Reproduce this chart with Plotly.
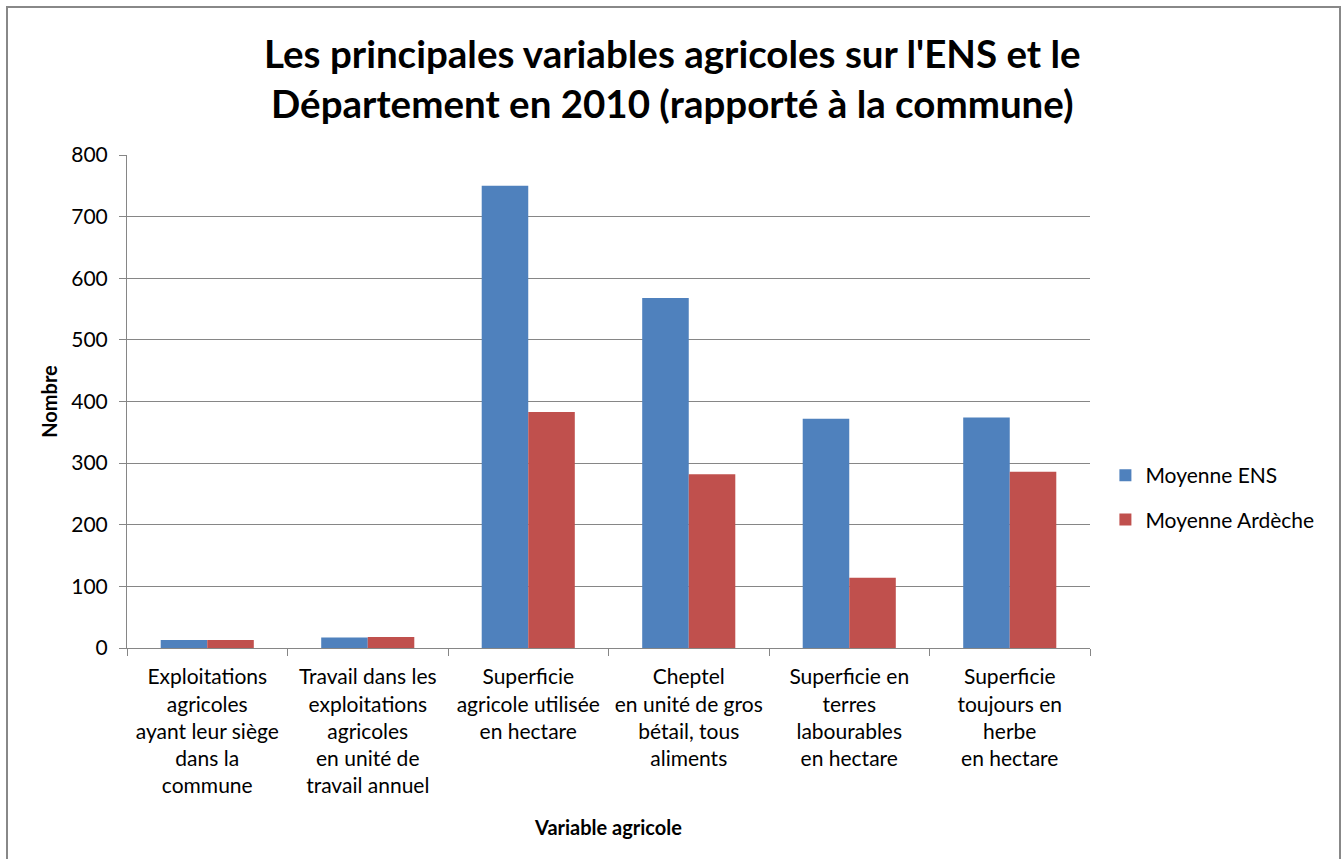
import plotly.graph_objects as go

# Data
categories = [
    "Exploitations<br>agricoles<br>ayant leur siège<br>dans la<br>commune",
    "Travail dans les<br>exploitations<br>agricoles<br>en unité de<br>travail annuel",
    "Superficie<br>agricole utilisée<br>en hectare",
    "Cheptel<br>en unité de gros<br>bétail, tous<br>aliments",
    "Superficie en<br>terres<br>labourables<br>en hectare",
    "Superficie<br>toujours en<br>herbe<br>en hectare",
]
moyenne_ens = [13, 17, 750, 568, 372, 374]
moyenne_ardeche = [13, 18, 383, 282, 114, 286]
y_ticks = [0, 100, 200, 300, 400, 500, 600, 700, 800]

FONT = "Lato, 'Open Sans', sans-serif"
GRID = "#868686"

fig = go.Figure()
fig.add_trace(go.Bar(x=categories, y=moyenne_ens, name="Moyenne ENS", legendgroup="a",
                     marker=dict(color="#4F81BD", line=dict(width=0))))
fig.add_trace(go.Bar(x=categories, y=moyenne_ardeche, name="Moyenne Ardèche", legendgroup="b",
                     marker=dict(color="#C0504D", line=dict(width=0))))

fig.update_layout(
    width=1342, height=859,
    margin=dict(l=127, r=252, t=155, b=211),
    paper_bgcolor="white", plot_bgcolor="white",
    font=dict(family=FONT, size=21, color="black"),
    barmode="group", bargap=0.42, bargroupgap=0,
    title=dict(
        text="<b>Les principales variables agricoles sur l'ENS et le<br>Département en 2010 (rapporté à la commune)</b>",
        x=0.501, xanchor="center", y=1 - 68 / 859, yanchor="middle", yref="container",
        font=dict(family=FONT, size=38.5, color="black"),
    ),
    legend=dict(x=1.016, y=0.305, xanchor="left", yanchor="middle",
                font=dict(size=21), tracegroupgap=14, itemsizing="constant",
                bgcolor="rgba(0,0,0,0)"),
    xaxis=dict(
        title=dict(text="<b>Variable agricole</b>", font=dict(size=20), standoff=24),
        showline=True, linecolor=GRID, linewidth=1,
        ticks="outside", tickson="boundaries", ticklen=7, tickcolor=GRID,
        tickfont=dict(size=21), ticklabelstandoff=10,
    ),
    yaxis=dict(
        title=dict(text="<b>Nombre</b>", font=dict(size=20), standoff=8),
        range=[0, 800], tickvals=y_ticks,
        showgrid=True, gridcolor=GRID, gridwidth=1,
        showline=True, linecolor=GRID, linewidth=1,
        ticks="outside", ticklen=7, tickcolor=GRID,
        tickfont=dict(size=21), zeroline=False, ticklabelstandoff=7,
    ),
    shapes=[dict(type="rect", xref="paper", yref="paper",
                 x0=(7 - 127) / 963, x1=(1340 - 127) / 963,
                 y0=-0.6, y1=(648 - 7) / 493,
                 line=dict(color="#888888", width=2))],
)

fig.write_html("out.html", config=dict(displayModeBar=False),
               post_script="document.body.style.margin='0';")
